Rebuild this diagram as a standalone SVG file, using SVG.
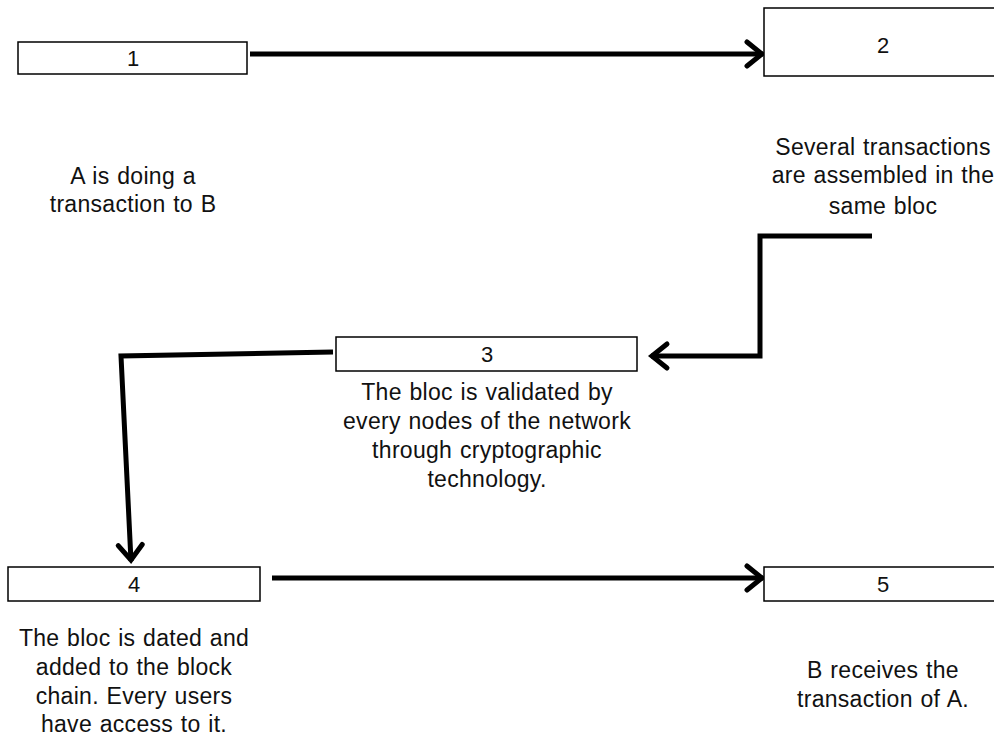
<svg xmlns="http://www.w3.org/2000/svg" width="994" height="742" viewBox="0 0 994 742">
<defs>
<style>
.box{fill:#fff;stroke:#000;stroke-width:1.5}
.num{font-family:"Liberation Sans",Arial,sans-serif;font-size:22px;fill:#111;text-anchor:middle}
.desc{font-family:"Liberation Sans",Arial,sans-serif;font-size:23px;fill:#111;text-anchor:middle;letter-spacing:0.3px;word-spacing:1px}
.conn{fill:none;stroke:#000;stroke-width:5;stroke-linejoin:miter}
</style>
<marker id="arr" markerUnits="userSpaceOnUse" markerWidth="26" markerHeight="32" viewBox="0 0 26 32" refX="21" refY="16" orient="auto">
<path d="M5,4 L20,16 L5,28" fill="none" stroke="#000" stroke-width="5" stroke-linecap="round" stroke-linejoin="miter"/>
</marker>
</defs>
<rect width="994" height="742" fill="#fff"/>
<g id="connectors">
<path class="conn" d="M250,54 L763,54" marker-end="url(#arr)"/>
<path class="conn" d="M872,236 L760,236 L760,356 L651,356" marker-end="url(#arr)"/>
<path class="conn" d="M333,352 L121,356 L131,561" marker-end="url(#arr)"/>
<path class="conn" d="M272,578 L763,578" marker-end="url(#arr)"/>
</g>
<g id="node1">
<rect class="box" x="18" y="42" width="229" height="32"/>
<text class="num" x="133" y="66">1</text>
<text class="desc" x="133" y="184">A is doing a</text>
<text class="desc" x="133" y="212">transaction to B</text>
</g>
<g id="node2">
<rect class="box" x="764" y="8" width="240" height="68"/>
<text class="num" x="883" y="53">2</text>
<text class="desc" x="883" y="155">Several transactions</text>
<text class="desc" x="883" y="183">are assembled in the</text>
<text class="desc" x="883" y="214">same bloc</text>
</g>
<g id="node3">
<rect class="box" x="336" y="337" width="301" height="34"/>
<text class="num" x="487" y="362">3</text>
<text class="desc" x="487" y="400">The bloc is validated by</text>
<text class="desc" x="487" y="429">every nodes of the network</text>
<text class="desc" x="487" y="458">through cryptographic</text>
<text class="desc" x="487" y="487">technology.</text>
</g>
<g id="node4">
<rect class="box" x="8" y="567" width="252" height="34"/>
<text class="num" x="134" y="592">4</text>
<text class="desc" x="134" y="646">The bloc is dated and</text>
<text class="desc" x="134" y="675">added to the block</text>
<text class="desc" x="134" y="704">chain. Every users</text>
<text class="desc" x="134" y="732">have access to it.</text>
</g>
<g id="node5">
<rect class="box" x="764" y="567" width="240" height="34"/>
<text class="num" x="883" y="592">5</text>
<text class="desc" x="883" y="678">B receives the</text>
<text class="desc" x="883" y="707">transaction of A.</text>
</g>
</svg>
